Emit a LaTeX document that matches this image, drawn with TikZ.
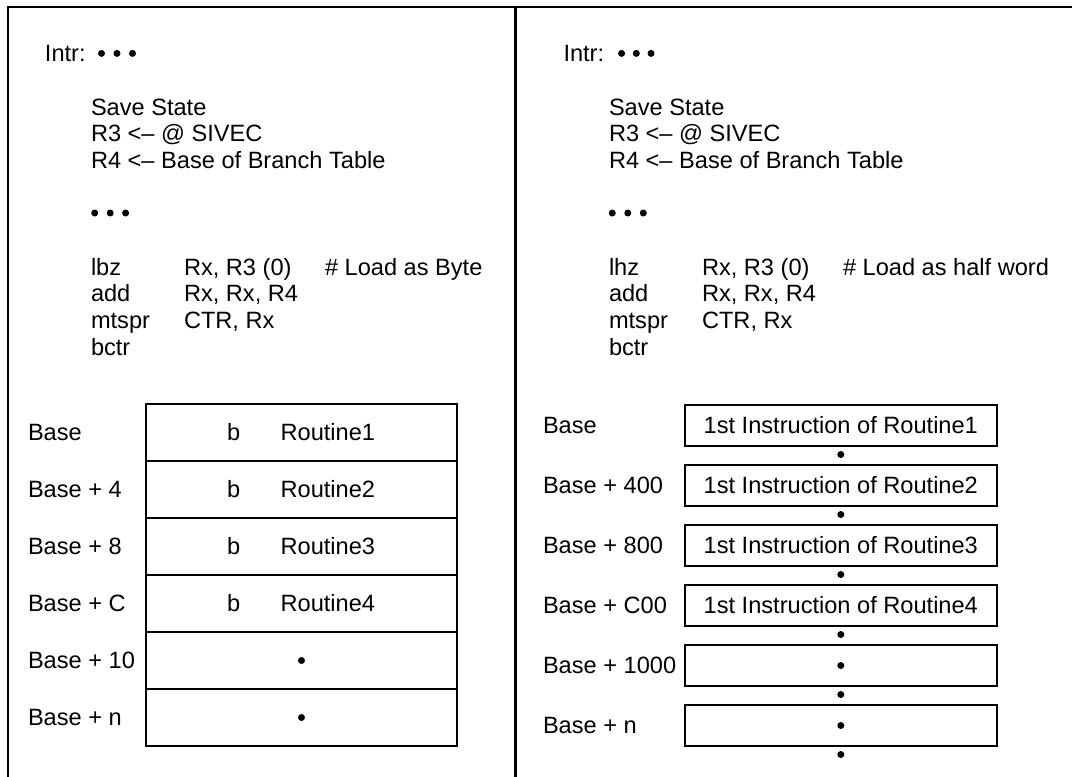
\documentclass[tikz,border=0pt]{standalone}
\usepackage{fontspec}
\setmainfont{Liberation Sans}
\begin{document}
\begin{tikzpicture}[x=0.5pt,y=-0.5pt,
  every node/.style={font=\fontsize{11.8}{14}\selectfont, inner sep=0pt, outer sep=0pt},
  txt/.style={anchor=base west},
  frameline/.style={line width=1.1pt},
  dot/.style={circle, fill=black, minimum size=3.5pt, inner sep=0pt},
  rowcell/.style={draw, line width=0.8pt, minimum width=155.5pt, minimum height=28.5pt},
  instbox/.style={draw, line width=1pt, minimum width=155.8pt, minimum height=20.5pt, text height=8.45pt, text depth=0pt}]
\useasboundingbox (0,0) rectangle (1072,777);
% frame
\draw[frameline] (8,777) -- (8,7) -- (1072,7);
\draw[frameline] (515.5,7) -- (515.5,777);

% ---------- left code ----------
\node[txt] (lintr) at (45,61.7) {Intr:};
\node[dot] (lid1) at (101.5,53.4) {};
\node[dot] (lid2) at (117,53.4) {};
\node[dot] (lid3) at (132.5,53.4) {};
\node[txt] (lsave) at (91,115) {Save State};
\node[txt] (lr3) at (91,141.7) {R3 <– @ SIVEC};
\node[txt] (lr4) at (91,168.3) {R4 <– Base of Branch Table};
\node[dot] (lcd1) at (94.7,213) {};
\node[dot] (lcd2) at (110.2,213) {};
\node[dot] (lcd3) at (125.6,213) {};
\node[txt] (llbz) at (91,275) {lbz};
\node[txt] (llbza) at (184,275) {Rx, R3 (0)};
\node[txt] (llbzc) at (325,275) {\# Load as Byte};
\node[txt] (ladd) at (91,301.7) {add};
\node[txt] (ladda) at (184,301.7) {Rx, Rx, R4};
\node[txt] (lmt) at (91,328.3) {mtspr};
\node[txt] (lmta) at (184,328.3) {CTR, Rx};
\node[txt] (lbctr) at (91,355) {bctr};

% ---------- left table ----------
\foreach \i/\lab/\rt in {0/Base/Routine1, 1/Base + 4/Routine2, 2/Base + 8/Routine3, 3/Base + C/Routine4} {
  \node[rowcell] (lrow\i) at (301.5,432.5+57*\i) {};
  \node[txt] (llab\i) at (28,440.9+57*\i) {\lab};
  \node[txt] (lb\i) at (227,440.9+57*\i) {b};
  \node[txt] (lrt\i) at (280.6,440.9+57*\i) {\rt};
}
\foreach \i/\lab in {4/Base + 10, 5/Base + n} {
  \node[rowcell] (lrow\i) at (301.5,432.5+57*\i) {};
  \node[txt] (llab\i) at (28,440.9+57*\i) {\lab};
  \node[dot] (lrd\i) at (301.5,432.5+57*\i) {};
}
\draw[line width=1pt] (lrow0.north west) rectangle (lrow5.south east);

% ---------- right code ----------
\node[txt] (rintr) at (563.5,61.7) {Intr:};
\node[dot] (rid1) at (621.6,53.4) {};
\node[dot] (rid2) at (636.3,53.4) {};
\node[dot] (rid3) at (651,53.4) {};
\node[txt] (rsave) at (609,115) {Save State};
\node[txt] (rr3) at (609,141.7) {R3 <– @ SIVEC};
\node[txt] (rr4) at (609,168.3) {R4 <– Base of Branch Table};
\node[dot] (rcd1) at (612.3,213) {};
\node[dot] (rcd2) at (627.8,213) {};
\node[dot] (rcd3) at (643.3,213) {};
\node[txt] (rlhz) at (609,275) {lhz};
\node[txt] (rlhza) at (702,275) {Rx, R3 (0)};
\node[txt] (rlhzc) at (843,275) {\# Load as half word};
\node[txt] (radd) at (609,301.7) {add};
\node[txt] (radda) at (702,301.7) {Rx, Rx, R4};
\node[txt] (rmt) at (609,328.3) {mtspr};
\node[txt] (rmta) at (702,328.3) {CTR, Rx};
\node[txt] (rbctr) at (609,355) {bctr};

% ---------- right table ----------
\foreach \i/\lab/\n in {0/Base/1, 1/Base + 400/2, 2/Base + 800/3, 3/Base + C00/4} {
  \node[instbox] (rbox\i) at (840.8,425.5+60*\i) {1st Instruction of Routine\n};
  \node[txt] (rlab\i) at (543,433.9+60*\i) {\lab};
}
\foreach \i/\lab in {4/Base + 1000, 5/Base + n} {
  \node[instbox] (rbox\i) at (840.8,425.5+60*\i) {};
  \node[dot] (rin\i) at (rbox\i.center) {};
  \node[txt] (rlab\i) at (543,433.9+60*\i) {\lab};
}
\foreach \i in {0,...,5} {
  \node[dot] (rgap\i) at (840.8,454.5+60*\i) {};
}
\end{tikzpicture}
\end{document}
